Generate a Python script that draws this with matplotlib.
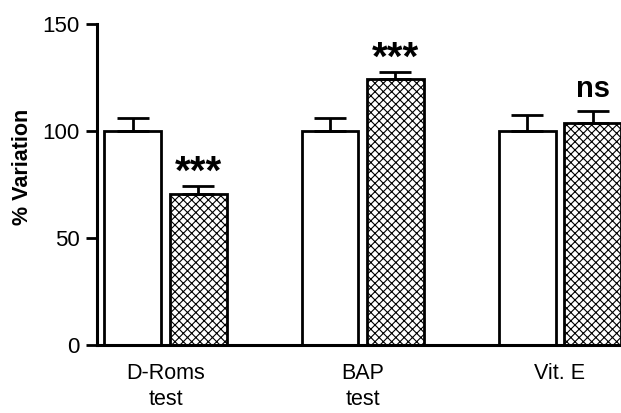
import numpy as np
import matplotlib
matplotlib.use("Agg")
import matplotlib.pyplot as plt

plt.rcParams['font.family'] = ['Liberation Sans', 'DejaVu Sans']
plt.rcParams['hatch.linewidth'] = 0.8
plt.rcParams['hatch.color'] = '#555555'

# Дані
groups = ['D-Roms\ntest', 'BAP\ntest', 'Vit. E']
control = [100, 100, 100]
control_err = [6, 6, 7.5]
treated = [70.5, 124.5, 103.5]
treated_err = [4, 3, 6]
marks = ['***', '***', 'ns']

fig = plt.figure(figsize=(6.21, 4.13), dpi=100)
ax = fig.add_axes([0.1554, 0.1646, 0.8446, 0.7774])

width = 1.0
gap = 0.15
step = 3.465
x0 = np.arange(len(groups)) * step + width / 2
x1 = x0 + width + gap

ekw = dict(ecolor='black', elinewidth=2, capsize=11.5, capthick=2)
# тільки верхні вуса
ax.bar(x0, control, width, yerr=[np.zeros(3), control_err], color='white',
       edgecolor='black', linewidth=2, error_kw=ekw, zorder=2)
ax.bar(x1, treated, width, yerr=[np.zeros(3), treated_err], color='white',
       edgecolor='black', hatch='xxxx', linewidth=2, error_kw=ekw, zorder=2)

# Позначки значущості
for xi, v, e, m in zip(x1, treated, treated_err, marks):
    if m == 'ns':
        ax.text(xi, v + e + 6.5, m, ha='center', va='baseline',
                fontsize=21, fontweight='bold')
    else:
        ax.text(xi, v + e + 6, m, ha='center', va='center',
                fontsize=29, fontweight='bold')

ax.set_xlim(-0.14, x1[-1] + width / 2)
ax.set_ylim(0, 150)
ax.set_yticks([0, 50, 100, 150])
ax.set_xticks((x0 + x1) / 2)
ax.set_xticklabels(groups, fontsize=15.5, linespacing=1.3)
ax.tick_params(axis='x', length=0, pad=13)
ax.tick_params(axis='y', length=8, width=2, labelsize=16, pad=4)

ax.spines['top'].set_visible(False)
ax.spines['right'].set_visible(False)
ax.spines['left'].set_linewidth(2.2)
ax.spines['bottom'].set_linewidth(2.2)

ax.set_ylabel('% Variation', fontsize=15.5, fontweight='bold')
ax.yaxis.set_label_coords(-0.121, 0.555)

plt.savefig("out.png", dpi=100)
